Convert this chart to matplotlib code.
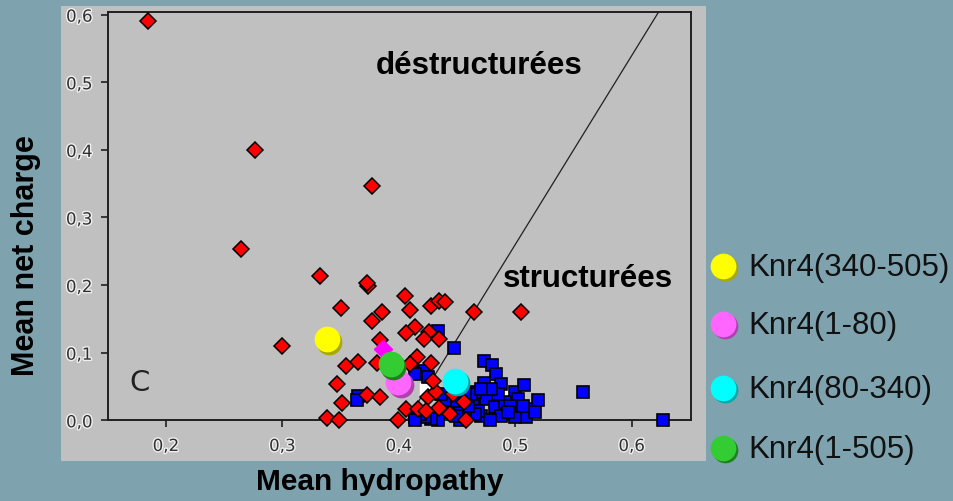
import matplotlib
matplotlib.use("Agg")
import matplotlib.pyplot as plt
from matplotlib.patches import Rectangle
from matplotlib import patheffects, transforms

# Mean hydropathy / mean net charge of the reference proteins
red_x = [0.1846, 0.2766, 0.377, 0.2646, 0.3322, 0.3737, 0.3730, 0.3503, 0.3766, 0.2994,
         0.3543, 0.3651, 0.3471, 0.3514, 0.338, 0.3488, 0.3723, 0.3857, 0.4052, 0.4095,
         0.4275, 0.4344, 0.4395, 0.4647, 0.5048, 0.4143, 0.4061, 0.4258, 0.4215, 0.4347,
         0.384, 0.3814, 0.4158, 0.4095, 0.4275, 0.3843, 0.3994, 0.406, 0.4167, 0.4252,
         0.4324, 0.4295, 0.4344, 0.4438, 0.4558, 0.4576, 0.4467, 0.4232]
red_y = [0.591, 0.400, 0.3466, 0.2540, 0.2139, 0.199, 0.2025, 0.1666, 0.1464, 0.1104,
         0.0808, 0.0867, 0.0537, 0.0256, 0.0034, 0.0, 0.0379, 0.1598, 0.1843, 0.1632,
         0.1695, 0.1769, 0.1754, 0.1598, 0.1598, 0.1376, 0.1291, 0.1302, 0.1203, 0.1203,
         0.1188, 0.0848, 0.0932, 0.0833, 0.0848, 0.0349, 0.0, 0.0167, 0.0167, 0.034,
         0.0423, 0.0586, 0.0178, 0.0093, 0.0266, 0.0, 0.0389, 0.0142]

blue_x = [0.4475, 0.4338, 0.3646, 0.3640, 0.5583, 0.627, 0.4733, 0.4805, 0.4839, 0.4733,
          0.4876, 0.4996, 0.5076, 0.5025, 0.5140, 0.5097, 0.5196, 0.5167, 0.4753, 0.4653,
          0.4638, 0.4710, 0.4825, 0.4882, 0.4996, 0.4910, 0.4953, 0.4681, 0.4395, 0.4410,
          0.4524, 0.4338, 0.4281, 0.4224, 0.4138, 0.4181, 0.4224, 0.4138, 0.4252, 0.4653,
          0.4781, 0.4524, 0.4624, 0.4567, 0.4181, 0.4138, 0.4453, 0.4567, 0.4595, 0.4496,
          0.4853, 0.4796, 0.4939, 0.5068, 0.4710, 0.4496, 0.4367]
blue_y = [0.1065, 0.1325, 0.0364, 0.0305, 0.0414, 0.0, 0.0882, 0.0818, 0.0685, 0.0552,
          0.0537, 0.0414, 0.0527, 0.0315, 0.0167, 0.0044, 0.0305, 0.0118, 0.0315, 0.0414,
          0.0241, 0.0068, 0.0192, 0.0068, 0.0044, 0.0266, 0.0216, 0.0142, 0.029, 0.0118,
          0.0142, 0.0, 0.002, 0.0044, 0.0044, 0.071, 0.0734, 0.0685, 0.0636, 0.0093,
          0.0, 0.0, 0.0389, 0.0068, 0.0093, 0.0, 0.0463, 0.0389, 0.0216, 0.0290,
          0.0389, 0.0463, 0.0118, 0.0216, 0.0463, 0.0068, 0.0389]

white_x = [0.4925, 0.4238]
white_y = [0.0389, 0.0463]

magenta_x = [0.3866]
magenta_y = [0.1055]

# Knr4 fragments
knr4_labels = ["Knr4(340-505)", "Knr4(1-80)", "Knr4(80-340)", "Knr4(1-505)"]
knr4_x = [0.338, 0.3995, 0.448, 0.393]
knr4_y = [0.120, 0.056, 0.0586, 0.083]
knr4_colors = ["#ffff00", "#ff66ff", "#00ffff", "#33cc33"]
knr4_shadow = ["#a8a800", "#b040b0", "#00a8a8", "#1f801f"]

# boundary between folded / unfolded
boundary_x = [0.407, 0.623]
boundary_y = [0.0, 0.6035]

xticks = [0.2, 0.3, 0.4, 0.5, 0.6]
yticks = [0.0, 0.1, 0.2, 0.3, 0.4, 0.5, 0.6]

W, H = 954, 502
fig = plt.figure(figsize=(W / 100, H / 100), dpi=100)
fig.patch.set_facecolor("#7ea3af")

# overlay in pixel coordinates for the grey panel and the legend
lay = fig.add_axes([0, 0, 1, 1], zorder=0)
lay.set_xlim(0, W)
lay.set_ylim(H, 0)
lay.axis("off")
lay.add_patch(Rectangle((61, 7), 645, 455, facecolor="#c0c0c0", edgecolor="none"))

ax = fig.add_axes([107.7 / W, 1 - 421.3 / H, (691 - 107.7) / W, (421.3 - 13.3) / H], zorder=1)
ax.set_facecolor("#c0c0c0")
ax.set_xlim(0.15, 0.651)
ax.set_ylim(0.0, 0.6035)

ax.plot(boundary_x, boundary_y, color="#202020", lw=0.9, zorder=1)

ax.plot(white_x, white_y, "s", ms=8, mfc="white", mec="white", zorder=2, clip_on=False)
ax.plot(blue_x, blue_y, "s", ms=8, mfc="#0000ff", mec="black", mew=1.2, zorder=3, clip_on=False)
ax.plot(red_x, red_y, "D", ms=8.5, mfc="#ff0000", mec="black", mew=1.1, zorder=4, clip_on=False)
ax.plot(magenta_x, magenta_y, "D", ms=9, mfc="#ff00ff", mec="#ff00ff", zorder=4)

shadow_tr = transforms.offset_copy(ax.transData, fig=fig, x=2.5, y=-2.5, units="dots")
order = [0, 1, 3, 2]
for i in order:
    ax.plot(knr4_x[i], knr4_y[i], "o", ms=18.5, mfc=knr4_shadow[i], mec="none",
            transform=shadow_tr, zorder=5)
    ax.plot(knr4_x[i], knr4_y[i], "o", ms=18.5, mfc=knr4_colors[i], mec="none", zorder=5)

halo = [patheffects.withStroke(linewidth=2, foreground="#f0f0f0")]
ax.set_xticks(xticks)
ax.set_yticks(yticks)
ax.set_xticklabels([f"{v:.1f}".replace(".", ",") for v in xticks])
ax.set_yticklabels([f"{v:.1f}".replace(".", ",") for v in yticks])
ax.tick_params(direction="out", length=5, width=1.2, color="#202020",
               labelsize=12, labelcolor="#303030")
ax.tick_params(axis="y", pad=6)
ax.tick_params(axis="x", pad=7)
for lab in ax.get_xticklabels() + ax.get_yticklabels():
    lab.set_path_effects(halo)
for s in ax.spines.values():
    s.set_linewidth(1.4)
    s.set_color("#202020")

ax.text(0.469, 0.514, "déstructurées", fontsize=22.5, fontweight="bold",
        family="Liberation Sans", ha="center", va="baseline", zorder=6)
ax.text(0.5623, 0.198, "structurées", fontsize=22.5, fontweight="bold",
        family="Liberation Sans", ha="center", va="baseline", zorder=6)
ax.text(0.1777, 0.0562, "C", fontsize=21, color="#202020", ha="center", va="center",
        family="DejaVu Sans")

lay.text(380, 482, "Mean hydropathy", fontsize=21.5, fontweight="bold",
         family="Liberation Sans", ha="center", va="center")
lay.text(26, 256, "Mean net charge", fontsize=22, fontweight="bold",
         family="Liberation Sans", ha="center", va="center", rotation=90)

# legend
leg_y = [267, 325, 389, 449]
for lab, c, sh, yy in zip(knr4_labels, knr4_colors, knr4_shadow, leg_y):
    lay.plot(725, yy + 2, "o", ms=18.5, mfc=sh, mec="none")
    lay.plot(723, yy, "o", ms=18.5, mfc=c, mec="none")
    lay.text(748, yy + 1, lab, fontsize=22.5, family="Liberation Sans",
             ha="left", va="center", color="#111111")

fig.savefig("out.png", dpi=100, facecolor=fig.get_facecolor())
